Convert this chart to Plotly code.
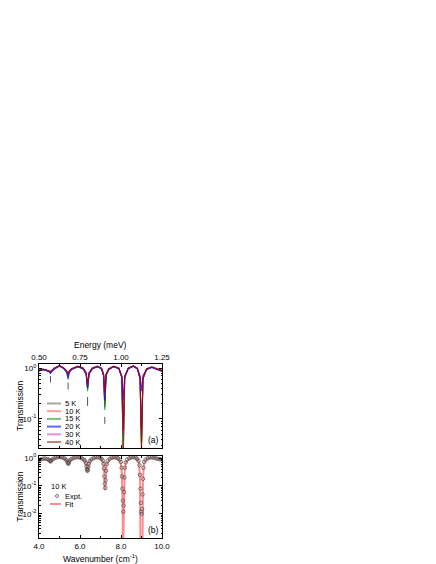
import plotly.graph_objects as go

# ---------------- data ----------------
# Panel (a): transmission vs wavenumber (cm^-1) at several temperatures
wavenumber_a = [4.00, 4.20, 4.40, 4.50, 4.56, 4.62, 4.75, 5.00, 5.20, 5.35,
                5.42, 5.48, 5.60, 5.90, 6.15, 6.30, 6.37, 6.44, 6.60, 6.85,
                7.05, 7.15, 7.21, 7.27, 7.40, 7.65, 7.90, 8.04, 8.11, 8.18,
                8.35, 8.60, 8.80, 8.93, 9.00, 9.07, 9.25, 9.50, 9.75, 10.00]

trans_5K = [0.90, 0.95, 0.90, 0.87, 0.82, 0.88, 0.98, 1.12, 1.00, 0.86,
            0.70, 0.86, 0.96, 1.08, 0.98, 0.78, 0.42, 0.78, 0.98, 1.08,
            0.98, 0.72, 0.17, 0.72, 0.95, 1.08, 0.98, 0.65, 0.020, 0.65,
            0.98, 1.10, 0.98, 0.62, 0.035, 0.62, 0.95, 1.05, 0.95, 0.88]
trans_10K = [0.89, 0.94, 0.90, 0.88, 0.84, 0.89, 0.99, 1.11, 1.01, 0.87,
             0.72, 0.87, 0.97, 1.07, 0.99, 0.79, 0.40, 0.79, 0.99, 1.07,
             0.99, 0.73, 0.20, 0.73, 0.96, 1.07, 0.99, 0.66, 0.015, 0.66,
             0.99, 1.09, 0.99, 0.63, 0.028, 0.63, 0.96, 1.04, 0.96, 0.89]
trans_15K = [0.88, 0.93, 0.89, 0.86, 0.83, 0.87, 0.97, 1.10, 0.99, 0.85,
             0.68, 0.85, 0.95, 1.07, 0.97, 0.76, 0.35, 0.76, 0.97, 1.07,
             0.97, 0.70, 0.15, 0.70, 0.94, 1.07, 0.97, 0.64, 0.030, 0.64,
             0.97, 1.09, 0.97, 0.61, 0.032, 0.61, 0.94, 1.04, 0.94, 0.87]
trans_20K = [0.88, 0.93, 0.88, 0.84, 0.78, 0.85, 0.96, 1.09, 0.98, 0.82,
             0.60, 0.82, 0.94, 1.06, 0.96, 0.76, 0.40, 0.76, 0.96, 1.06,
             0.96, 0.74, 0.23, 0.74, 0.94, 1.06, 0.96, 0.70, 0.24, 0.70,
             0.96, 1.08, 0.96, 0.72, 0.35, 0.72, 0.94, 1.03, 0.94, 0.87]
trans_30K = [0.90, 0.95, 0.91, 0.88, 0.85, 0.89, 0.99, 1.11, 1.01, 0.87,
             0.74, 0.87, 0.97, 1.08, 0.99, 0.80, 0.46, 0.80, 0.99, 1.08,
             0.99, 0.75, 0.28, 0.75, 0.96, 1.08, 0.99, 0.67, 0.050, 0.67,
             0.99, 1.10, 0.99, 0.64, 0.060, 0.64, 0.96, 1.05, 0.96, 0.89]
trans_40K = [0.91, 0.96, 0.91, 0.89, 0.86, 0.90, 1.00, 1.12, 1.02, 0.88,
             0.76, 0.88, 0.98, 1.09, 1.00, 0.81, 0.50, 0.81, 1.00, 1.09,
             1.00, 0.76, 0.32, 0.76, 0.97, 1.09, 1.00, 0.68, 0.060, 0.68,
             1.00, 1.11, 1.00, 0.62, 0.025, 0.62, 0.97, 1.06, 0.97, 0.90]

temperature_labels = ["5 K", "10 K", "15 K", "20 K", "30 K", "40 K"]

# short vertical markers below the lower absorption lines (panel a)
marker_line_x = [4.56, 5.42, 6.37, 7.21]
marker_line_top = [0.70, 0.52, 0.27, 0.11]
marker_line_bottom = [0.52, 0.38, 0.18, 0.08]

# Panel (b): 10 K experiment and fit
wavenumber_expt = [4.00, 4.10, 4.20, 4.30, 4.40, 4.48, 4.53, 4.56, 4.59, 4.64,
                   4.72, 4.82, 4.92, 5.02, 5.12, 5.22, 5.30, 5.36, 5.40, 5.43,
                   5.46, 5.50, 5.58, 5.68, 5.78, 5.88, 5.98, 6.08, 6.17, 6.24,
                   6.29, 6.32, 6.34, 6.36, 6.38, 6.40, 6.43, 6.48, 6.56, 6.66,
                   6.76, 6.86, 6.96, 7.05, 7.11, 7.15, 7.17, 7.19, 7.21, 7.23,
                   7.25, 7.27, 7.30, 7.35, 7.45, 7.55, 7.65, 7.75, 7.85, 7.93,
                   7.99, 8.03, 8.05, 8.07, 8.09, 8.11, 8.13, 8.15, 8.17, 8.19,
                   8.23, 8.30, 8.40, 8.50, 8.60, 8.70, 8.78, 8.85, 8.90, 8.93,
                   8.95, 8.97, 8.99, 9.01, 9.03, 9.05, 9.07, 9.09, 9.13, 9.20,
                   9.30, 9.40, 9.50, 9.60, 9.70, 9.80, 9.90, 10.00]
trans_expt = [0.86, 0.90, 0.95, 0.96, 0.92, 0.86, 0.80, 0.76, 0.80, 0.88,
              0.96, 1.03, 1.08, 1.10, 1.05, 0.98, 0.90, 0.80, 0.68, 0.62,
              0.70, 0.82, 0.92, 1.00, 1.05, 1.07, 1.04, 0.98, 0.90, 0.80,
              0.66, 0.50, 0.40, 0.35, 0.38, 0.48, 0.62, 0.78, 0.90, 0.99,
              1.05, 1.06, 1.02, 0.94, 0.82, 0.62, 0.42, 0.22, 0.12, 0.085,
              0.16, 0.35, 0.60, 0.80, 0.93, 1.02, 1.06, 1.04, 0.98, 0.88,
              0.72, 0.45, 0.22, 0.08, 0.03, 0.012, 0.02, 0.06, 0.20, 0.45,
              0.70, 0.88, 0.98, 1.06, 1.08, 1.03, 0.94, 0.80, 0.55, 0.25,
              0.08, 0.025, 0.012, 0.010, 0.015, 0.05, 0.18, 0.45, 0.72, 0.88,
              0.98, 1.04, 1.06, 1.02, 0.97, 0.93, 0.90, 0.88]

wavenumber_fit = [4.00, 4.20, 4.35, 4.48, 4.56, 4.64, 4.80, 5.00, 5.20, 5.35,
                  5.43, 5.51, 5.70, 5.90, 6.10, 6.25, 6.32, 6.36, 6.40, 6.47,
                  6.65, 6.85, 7.05, 7.14, 7.19, 7.22, 7.25, 7.30, 7.45, 7.65,
                  7.85, 7.98, 8.04, 8.08, 8.10, 8.12, 8.14, 8.18, 8.25, 8.45,
                  8.60, 8.78, 8.88, 8.93, 8.95, 9.05, 9.07, 9.12, 9.25, 9.45,
                  9.60, 9.80, 10.00]
trans_fit = [0.84, 0.92, 0.93, 0.84, 0.70, 0.86, 1.00, 1.07, 0.98, 0.80,
             0.55, 0.80, 0.98, 1.04, 0.96, 0.78, 0.50, 0.30, 0.45, 0.75,
             0.97, 1.04, 0.93, 0.65, 0.25, 0.07, 0.20, 0.60, 0.92, 1.04,
             0.97, 0.75, 0.30, 0.02, 0.0003, 0.0003, 0.02, 0.35, 0.75, 0.98,
             1.05, 0.93, 0.70, 0.15, 0.0003, 0.0003, 0.15, 0.65, 0.90, 1.02,
             1.00, 0.92, 0.86]

wn_ticks = [4, 6, 8, 10]
wn_ticktext = ["4.0", "6.0", "8.0", "10.0"]
energy_ticks = [0.50, 0.75, 1.00, 1.25]
energy_ticktext = ["0.50", "0.75", "1.00", "1.25"]

# ---------------- styling / layout ----------------
line_colors = ["rgba(0,0,0,0.75)", "rgba(255,0,0,0.75)", "rgba(0,150,0,0.8)",
               "rgba(0,0,255,0.75)", "rgba(200,0,200,0.7)", "rgba(140,0,0,0.7)"]
legend_colors = ["rgba(0,0,0,0.35)", "rgba(255,0,0,0.4)", "rgba(0,150,0,0.55)",
                 "rgba(0,0,255,0.6)", "rgba(200,0,200,0.45)", "rgba(140,0,0,0.5)"]

W, H = 436, 564
L, R, T, B = 31, 154, 356, 530
A_BOT, B_TOP = 440, 447.5
FONT = "Liberation Sans, Arial, sans-serif"
FS = 8


def xp(px):
    return (px - L) / (R - L)


def yp(py):
    return (B - py) / (B - T)


fig = go.Figure()

trans_a = [trans_5K, trans_10K, trans_15K, trans_20K, trans_30K, trans_40K]
for name, ys, col in zip(temperature_labels, trans_a, line_colors):
    fig.add_trace(go.Scatter(x=wavenumber_a, y=ys, mode="lines", name=name,
                             line=dict(color=col, width=1.1),
                             xaxis="x2", yaxis="y2", showlegend=False,
                             hoverinfo="skip"))

for xv, y0, y1 in zip(marker_line_x, marker_line_top, marker_line_bottom):
    fig.add_trace(go.Scatter(x=[xv, xv], y=[y0, y1], mode="lines",
                             line=dict(color="#555555", width=1),
                             xaxis="x2", yaxis="y2", showlegend=False,
                             hoverinfo="skip"))

# invisible trace to attach the top energy axis
fig.add_trace(go.Scatter(x=[w / 8.0 for w in marker_line_x], y=marker_line_top,
                         mode="markers", opacity=0, xaxis="x3", yaxis="y2",
                         showlegend=False, hoverinfo="skip"))

fig.add_trace(go.Scatter(x=wavenumber_fit, y=trans_fit, mode="lines", name="Fit",
                         line=dict(color="rgba(255,0,0,0.45)", width=2),
                         xaxis="x", yaxis="y", showlegend=False, hoverinfo="skip"))
fig.add_trace(go.Scatter(x=wavenumber_expt, y=trans_expt, mode="markers", name="Expt.",
                         marker=dict(symbol="circle-open", size=3.5,
                                     color="#555555", line=dict(width=0.8)),
                         xaxis="x", yaxis="y", showlegend=False, hoverinfo="skip"))

axis_common = dict(showline=True, linecolor="black", linewidth=1, showgrid=False,
                   zeroline=False, ticks="inside", ticklen=3, tickwidth=1,
                   tickcolor="black", tickfont=dict(family=FONT, size=FS, color="black"))

minor_a = [m * 10 ** e for e in (-2, -1, 0) for m in range(2, 10)]
minor_b = [m * 10 ** e for e in (-3, -2, -1, 0) for m in range(2, 10)]

fig.update_layout(
    width=W, height=H, autosize=False,
    margin=dict(l=L, r=W - R, t=T, b=H - B, pad=0),
    paper_bgcolor="white", plot_bgcolor="white",
    font=dict(family=FONT, size=FS, color="black"),
    xaxis=dict(domain=[0, 1], anchor="y", range=[4, 10], tickmode="array",
               tickvals=wn_ticks, ticktext=wn_ticktext, mirror="ticks",
               minor=dict(tickmode="array", tickvals=[5, 7, 9], ticks="inside",
                          ticklen=2, tickcolor="black"),
               **axis_common),
    xaxis2=dict(domain=[0, 1], anchor="y2", range=[4, 10], tickmode="array",
                tickvals=wn_ticks, showticklabels=False, mirror=True,
                minor=dict(tickmode="array", tickvals=[5, 7, 9], ticks="inside",
                           ticklen=2, tickcolor="black"),
                **axis_common),
    xaxis3=dict(overlaying="x2", anchor="y2", side="top", range=[0.5, 1.25],
                tickmode="array", tickvals=energy_ticks, ticktext=energy_ticktext,
                minor=dict(tickmode="array", tickvals=[0.625, 0.875, 1.125],
                           ticks="inside", ticklen=2, tickcolor="black"),
                **axis_common),
    yaxis=dict(domain=[0, yp(B_TOP)], anchor="x", type="log", range=[-2.86, 0.09],
               tickmode="array", tickvals=[1, 0.1, 0.01],
               ticktext=["10<sup>0</sup>", "10<sup>-1</sup>", "10<sup>-2</sup>"],
               mirror="ticks",
               minor=dict(tickmode="array", tickvals=minor_b, ticks="inside",
                          ticklen=1.5, tickcolor="black"),
               **axis_common),
    yaxis2=dict(domain=[yp(A_BOT), 1], anchor="x2", type="log", range=[-1.57, 0.08],
                tickmode="array", tickvals=[1, 0.1],
                ticktext=["10<sup>0</sup>", "10<sup>-1</sup>"],
                mirror="ticks",
                minor=dict(tickmode="array", tickvals=minor_a, ticks="inside",
                           ticklen=1.5, tickcolor="black"),
                **axis_common),
)

shapes = []
annotations = []


def text(px, py, s, anchor="center", angle=0, size=FS, height=None):
    ann = dict(x=xp(px), y=yp(py), xref="paper", yref="paper", text=s,
               showarrow=False, xanchor=anchor, yanchor="middle",
               textangle=angle, borderpad=0,
               font=dict(family=FONT, size=size, color="black"))
    if height is not None:
        ann["height"] = height
    annotations.append(ann)


# axis titles
text(12, (T + A_BOT) / 2, "Transmission", angle=-90, size=8.5)
text(12, (B_TOP + B) / 2, "Transmission", angle=-90, size=8.5)
text((L + R) / 2, 337, "Energy (meV)", size=8.5)
text((L + R) / 2, 550, "Wavenumber (cm<sup>-1</sup>)", size=8.5)
text(152, 432, "(a)", anchor="right", size=8.5)
text(152, 522, "(b)", anchor="right", size=8.5)

# legend (a)
for i, (lab, col) in enumerate(zip(temperature_labels, legend_colors)):
    py = 395.5 + i * 7.7
    shapes.append(dict(type="line", xref="paper", yref="paper", x0=xp(39), x1=xp(53),
                       y0=yp(py), y1=yp(py), line=dict(color=col, width=2)))
    text(56, py, lab, anchor="left", size=7.5, height=7)

# legend (b)
text(42, 478, "10 K", anchor="left", size=7.5, height=7)
shapes.append(dict(type="circle", xref="paper", yref="paper", x0=xp(47.5), x1=xp(50.5),
                   y0=yp(489.5), y1=yp(486.5), line=dict(color="#555555", width=0.8)))
text(56, 488, "Expt.", anchor="left", size=7.5, height=7)
shapes.append(dict(type="line", xref="paper", yref="paper", x0=xp(42), x1=xp(53),
                   y0=yp(496), y1=yp(496), line=dict(color="rgba(255,0,0,0.45)", width=2)))
text(56, 496, "Fit", anchor="left", size=7.5, height=7)

fig.update_layout(shapes=shapes, annotations=annotations)

fig.write_html("out.html")
